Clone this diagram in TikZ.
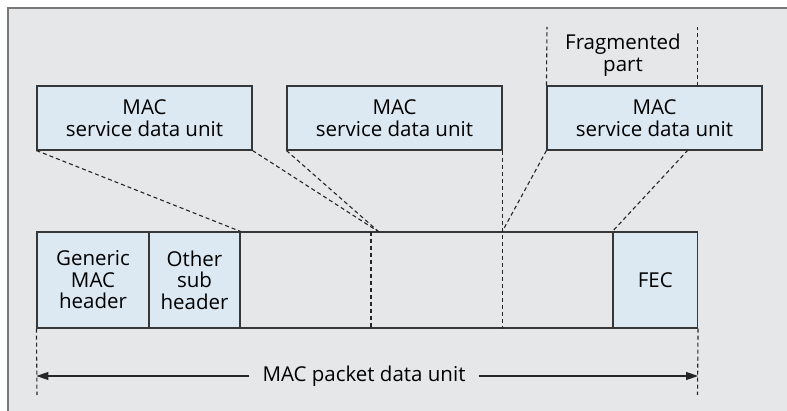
\documentclass[tikz,border=0pt]{standalone}
\usepackage{fontspec}
\setmainfont{Open Sans}
\usetikzlibrary{arrows.meta}
\definecolor{bgray}{RGB}{230,231,232}
\definecolor{boxblue}{RGB}{220,233,243}
\definecolor{edge}{RGB}{55,55,55}
\definecolor{frame}{RGB}{120,120,120}
\tikzset{
  unitbox/.style={draw=edge, line width=1.1pt, fill=boxblue, inner sep=0pt, align=center,
    font=\fontsize{20.5}{21.5}\selectfont, text=black},
  plainbox/.style={draw=edge, line width=1.1pt, inner sep=0pt},
  dashconn/.style={draw=black!85, line width=1.1pt, dash pattern=on 4pt off 3pt},
  lbl/.style={align=center, inner sep=0pt, font=\fontsize{20.5}{21.5}\selectfont, text=black},
  dimarrow/.style={draw=black!85, line width=1.1pt, -{Triangle[length=12pt,width=8pt]}}
}
\begin{document}
\begin{tikzpicture}[x=1pt,y=-1pt]
\useasboundingbox (0,0) rectangle (787,411);
\fill[bgray] (8,8) rectangle (790,414);
\draw[frame, line width=1.2pt] (8,414) -- (8,8) -- (790,8);

% SDU boxes
\node[unitbox, minimum width=215pt, minimum height=64pt] (sdu1) at (144.5,118) {MAC\\service data unit};
\node[unitbox, minimum width=215pt, minimum height=64pt] (sdu2) at (394.5,118) {MAC\\service data unit};
\node[unitbox, minimum width=215pt, minimum height=64pt] (sdu3) at (654.5,118) {MAC\\service data unit};

% Packet
\node[unitbox, minimum width=112pt, minimum height=96pt] (gen) at (93,280) {Generic\\MAC\\header};
\node[unitbox, minimum width=91pt, minimum height=96pt] (oth) at (194.5,280) {Other\\sub\\header};
\node[plainbox, minimum width=373pt, minimum height=96pt] (pay) at (426.5,280) {};
\node[unitbox, minimum width=84.5pt, minimum height=96pt] (fec) at (655.25,280) {FEC};

% Fragmented part
\node[lbl] (frag) at (623,55) {Fragmented\\part};
\coordinate (fragL) at (547,27);
\coordinate (fragRtop) at (697.5,27);
\coordinate (fragRbot) at (697.5,86);
\draw[dashconn] (sdu3.north west) -- (fragL);
\draw[dashconn] (fragRbot) -- (fragRtop);

% Connectors
\coordinate (c1) at (379,232);
\coordinate (c2) at (502,232);
\coordinate (s3r) at (688,150);
\draw[dashconn] (sdu1.south west) -- (oth.north east);
\draw[dashconn] (sdu1.south east) -- (c1);
\draw[dashconn] (sdu2.south west) -- (c1);
\draw[dashconn] (sdu2.south east) -- (sdu2.south east |- pay.south);
\draw[dashconn] (sdu3.south west) -- (c2);
\draw[dashconn] (s3r) -- (fec.north west);
\coordinate (v1t) at (371,232);
\coordinate (v1b) at (371,328);
\draw[dashconn] (v1t) -- (v1b);

% Dimension
\coordinate (dl) at (37,395);
\coordinate (dr) at (697.5,395);
\draw[dashconn] (gen.south west) -- (dl);
\draw[dashconn] (fec.south east) -- (dr);
\node[lbl, inner xsep=13pt] (mpdu) at (364,376) {MAC packet data unit};
\draw[dimarrow] (mpdu.west) -- (mpdu.west -| gen.south west);
\draw[dimarrow] (mpdu.east) -- (mpdu.east -| fec.south east);
\end{tikzpicture}
\end{document}
